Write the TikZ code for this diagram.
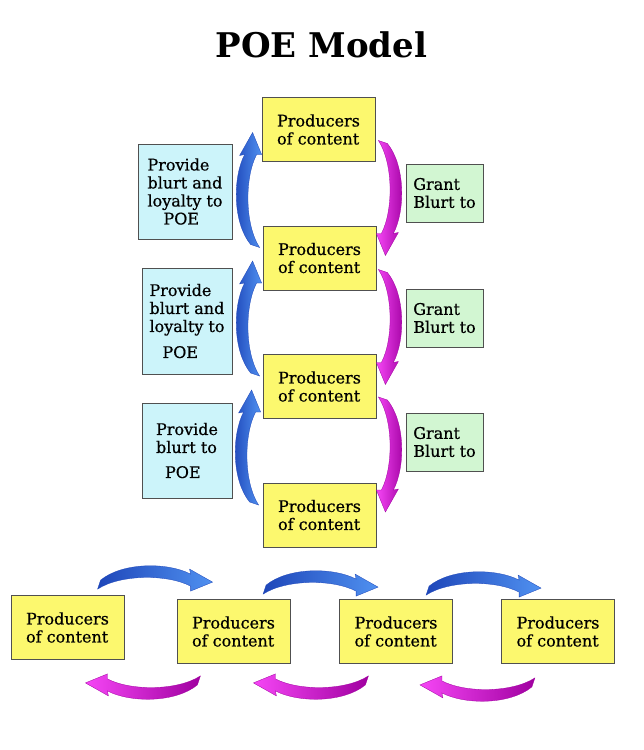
\documentclass[tikz,border=0pt]{standalone}
\usepackage{fontspec}
\setmainfont{DejaVu Serif}
\newfontfamily\boxfont[FakeBold=0.6]{DejaVu Serif}
\definecolor{prodfill}{RGB}{252,248,110}
\definecolor{provfill}{RGB}{204,244,250}
\definecolor{grantfill}{RGB}{210,246,210}
\definecolor{boxline}{RGB}{80,80,80}
\definecolor{arcblueD}{RGB}{30,70,185}
\definecolor{arcblueL}{RGB}{80,145,240}
\definecolor{arcmagD}{RGB}{160,0,160}
\definecolor{arcmagL}{RGB}{245,70,245}
\begin{document}
\begin{tikzpicture}[x=1pt,y=1pt,
  box/.style={draw=boxline, line width=0.8pt, inner sep=0pt, align=left,
              font=\boxfont\fontsize{16}{18}\selectfont},
  prod/.style={box, fill=prodfill, minimum width=113pt, minimum height=64pt},
  prov/.style={box, fill=provfill},
  grant/.style={box, fill=grantfill, minimum width=77pt, minimum height=58pt},
  arcshape/.style={line width=0.3pt},
  bluearc/.pic={
    \shade[arcshape, draw=arcblueD, left color=arcblueD, right color=arcblueL]
      (0,0) -- (9,-22) -- (4,-22) .. controls (-8,-45) and (-8,-92) .. (7,-115)
      -- (-2,-112) .. controls (-20,-90) and (-20,-45) .. (-8,-22)
      -- (-13,-23) -- cycle;
  },
  magarc/.pic={
    \shade[arcshape, draw=arcmagD, left color=arcmagL, right color=arcmagD]
      (0,0) -- (9,-22) -- (4,-22) .. controls (-8,-45) and (-8,-92) .. (7,-115)
      -- (-2,-112) .. controls (-20,-90) and (-20,-45) .. (-8,-22)
      -- (-13,-23) -- cycle;
  }
]
\useasboundingbox[fill=white] (0,0) rectangle (644,-750);

% title
\node[font=\fontsize{34}{40}\selectfont\bfseries, anchor=base, inner sep=0pt]
  (title) at (321.5,-57) {POE Model};

% vertical column of producers
\node[prod] (Y1) at (318.5,-129.5) {Producers\\of content};
\node[prod] (Y2) at (319.5,-258)   {Producers\\of content};
\node[prod] (Y3) at (319.5,-386.5) {Producers\\of content};
\node[prod] (Y4) at (319.5,-515)   {Producers\\of content};

% provide boxes
\node[prov, minimum width=94pt, minimum height=95pt] (C1) at (185,-191.5)
  {Provide\\blurt and\\loyalty to\\\hspace*{16pt}POE};
\node[prov, minimum width=90pt, minimum height=106pt] (C2) at (187,-321)
  {Provide\\blurt and\\loyalty to\\[8pt]\hspace*{13pt}POE};
\node[prov, minimum width=90pt, minimum height=95pt] (C3) at (187,-450.5)
  {Provide\\blurt to\\[7pt]\hspace*{9pt}POE};

% grant boxes
\node[grant] (G1) at (444.5,-193) {Grant\\Blurt to};
\node[grant] (G2) at (444.5,-318) {Grant\\Blurt to};
\node[grant] (G3) at (444.5,-442) {Grant\\Blurt to};

% bottom row
\node[prod] (B1) at (67.5,-627.5) {Producers\\of content};
\node[prod] (B2) at (233.5,-631.5) {Producers\\of content};
\node[prod] (B3) at (396,-631.5) {Producers\\of content};
\node[prod] (B4) at (558,-631.5) {Producers\\of content};

% curved arrows, vertical column
\pic at ([shift={(-9,-3)}]Y1.west) {bluearc};
\pic at ([shift={(-10,-3)}]Y2.west) {bluearc};
\pic at ([shift={(-11,-3.5)}]Y3.west) {bluearc};
\pic[rotate=180] at ([shift={(9,2.5)}]Y2.east) {magarc};
\pic[rotate=180] at ([shift={(9,2)}]Y3.east) {magarc};
\pic[rotate=180] at ([shift={(9,3)}]Y4.east) {magarc};

% curved arrows, bottom row
\pic[rotate=-90] at ([shift={(36,17)}]B2.north west) {bluearc};
\pic[rotate=-90] at ([shift={(39,12)}]B3.north west) {bluearc};
\pic[rotate=-90] at ([shift={(40,11)}]B4.north west) {bluearc};
\pic[rotate=90] at ([shift={(-39,-23)}]B1.south east) {magarc};
\pic[rotate=90] at ([shift={(-37,-19)}]B2.south east) {magarc};
\pic[rotate=90] at ([shift={(-33,-21)}]B3.south east) {magarc};
\end{tikzpicture}
\end{document}
